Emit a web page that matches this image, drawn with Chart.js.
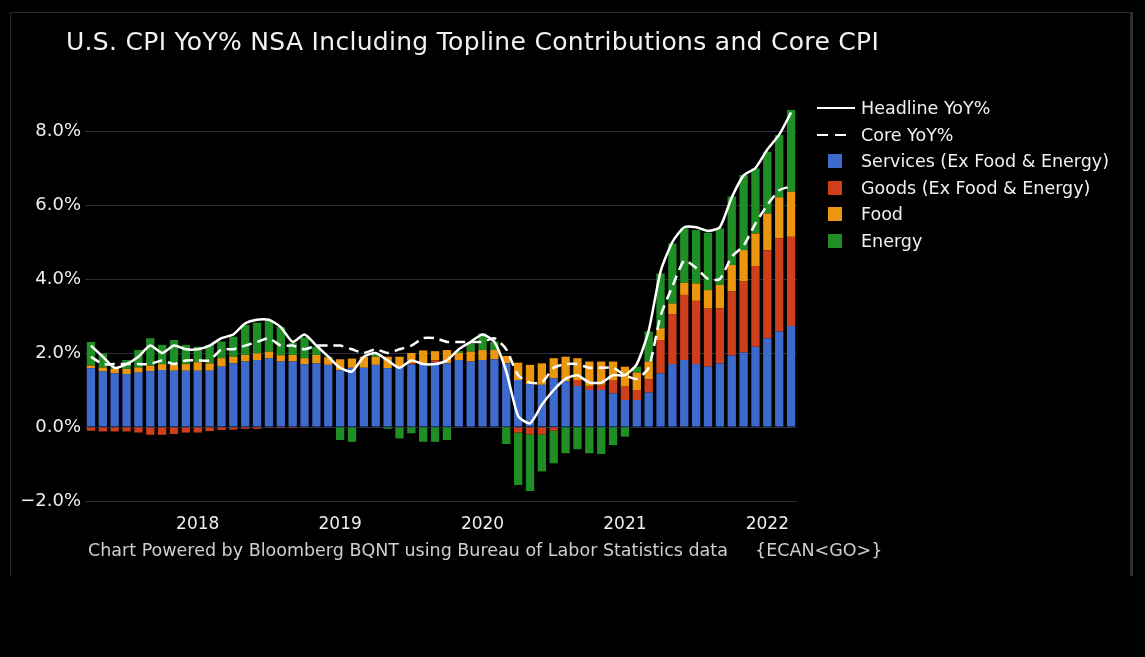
<!DOCTYPE html>
<html>
<head>
<meta charset="utf-8">
<script src="https://cdn.jsdelivr.net/npm/chart.js@4.4.1/dist/chart.umd.min.js"></script>
<style>
    html, body { margin: 0; padding: 0; background: #000; }
    body { width: 1145px; height: 657px; position: relative; overflow: hidden; font-family: "DejaVu Sans", Verdana, sans-serif; }
    #frame { position: absolute; left: 10px; top: 12px; width: 1119px; height: 563px; border-left: 1px solid #262626; border-top: 1px solid #2b2b2b; border-right: 3px solid #2e2e2e; }
    #chart { position: absolute; left: 0; top: 0; }
    #title { position: absolute; left: 66px; top: 27px; color: #f2f2f2; font-size: 25px; letter-spacing: 0.3px; white-space: nowrap; }
    #footer, #footer2 { position: absolute; top: 540px; color: #cfcfcf; font-size: 17.5px; white-space: nowrap; }
    #footer { left: 88px; }
    #footer2 { left: 755px; }
    #legend { position: absolute; left: 817px; top: 95px; }
    .row { height: 26.5px; display: flex; align-items: center; color: #f0f0f0; font-size: 17.5px; white-space: nowrap; }
    .mark { width: 44px; height: 14px; position: relative; }
    .mark span { position: absolute; }
</style>
</head>
<body>
<div id="frame"></div>
<canvas id="chart" width="1145" height="657"></canvas>
<div id="title">U.S. CPI YoY% NSA Including Topline Contributions and Core CPI</div>
<div id="legend"></div>
<div id="footer">Chart Powered by Bloomberg BQNT using Bureau of Labor Statistics data</div>
<div id="footer2">{ECAN&lt;GO&gt;}</div>
<script>
// ---- Data (monthly, Apr 2017 - Mar 2022) ----
const months = [
    '2017-04', '2017-05', '2017-06', '2017-07', '2017-08', '2017-09', '2017-10', '2017-11', '2017-12',
    '2018-01', '2018-02', '2018-03', '2018-04', '2018-05', '2018-06', '2018-07', '2018-08', '2018-09', '2018-10', '2018-11', '2018-12',
    '2019-01', '2019-02', '2019-03', '2019-04', '2019-05', '2019-06', '2019-07', '2019-08', '2019-09', '2019-10', '2019-11', '2019-12',
    '2020-01', '2020-02', '2020-03', '2020-04', '2020-05', '2020-06', '2020-07', '2020-08', '2020-09', '2020-10', '2020-11', '2020-12',
    '2021-01', '2021-02', '2021-03', '2021-04', '2021-05', '2021-06', '2021-07', '2021-08', '2021-09', '2021-10', '2021-11', '2021-12',
    '2022-01', '2022-02', '2022-03'
];

const headline = [
    2.2, 1.9, 1.6, 1.7, 1.9, 2.2, 2.0, 2.2, 2.1,
    2.1, 2.2, 2.4, 2.5, 2.8, 2.9, 2.9, 2.7, 2.3, 2.5, 2.2, 1.9,
    1.6, 1.5, 1.9, 2.0, 1.8, 1.6, 1.8, 1.7, 1.7, 1.8, 2.1, 2.3,
    2.5, 2.3, 1.5, 0.3, 0.1, 0.6, 1.0, 1.3, 1.4, 1.2, 1.2, 1.4,
    1.4, 1.7, 2.6, 4.2, 5.0, 5.4, 5.4, 5.3, 5.4, 6.2, 6.8, 7.0,
    7.5, 7.9, 8.5
];

const core = [
    1.9, 1.7, 1.7, 1.7, 1.7, 1.7, 1.8, 1.7, 1.8,
    1.8, 1.8, 2.1, 2.1, 2.2, 2.3, 2.4, 2.2, 2.2, 2.1, 2.2, 2.2,
    2.2, 2.1, 2.0, 2.1, 2.0, 2.1, 2.2, 2.4, 2.4, 2.3, 2.3, 2.3,
    2.3, 2.4, 2.1, 1.4, 1.2, 1.2, 1.6, 1.7, 1.7, 1.6, 1.6, 1.6,
    1.4, 1.3, 1.6, 3.0, 3.8, 4.5, 4.3, 4.0, 4.0, 4.6, 4.9, 5.5,
    6.0, 6.4, 6.5
];

const services = [
    1.59, 1.50, 1.45, 1.43, 1.47, 1.51, 1.54, 1.52, 1.52,
    1.52, 1.52, 1.63, 1.72, 1.77, 1.81, 1.86, 1.77, 1.77, 1.70, 1.72, 1.68,
    1.53, 1.60, 1.60, 1.68, 1.59, 1.63, 1.69, 1.71, 1.74, 1.72, 1.81, 1.77,
    1.81, 1.83, 1.72, 1.27, 1.16, 1.14, 1.32, 1.23, 1.11, 1.00, 1.00, 0.91,
    0.73, 0.73, 0.93, 1.45, 1.70, 1.81, 1.70, 1.63, 1.72, 1.93, 2.01, 2.17,
    2.40, 2.58, 2.73
];

const goods = [
    -0.10, -0.12, -0.12, -0.12, -0.15, -0.21, -0.21, -0.19, -0.15,
    -0.15, -0.11, -0.08, -0.07, -0.05, -0.05, -0.02, -0.03, -0.03, -0.02, 0.00, 0.00,
    0.00, 0.00, 0.00, 0.00, 0.00, 0.00, 0.03, 0.00, 0.06, 0.00, 0.00, 0.00,
    0.00, 0.00, -0.01, -0.15, -0.20, -0.20, -0.10, 0.00, 0.16, 0.11, 0.14, 0.36,
    0.36, 0.27, 0.36, 0.90, 1.35, 1.76, 1.71, 1.57, 1.49, 1.73, 1.92, 2.18,
    2.38, 2.52, 2.41
];

const food = [
    0.07, 0.11, 0.12, 0.14, 0.14, 0.15, 0.16, 0.16, 0.18,
    0.23, 0.20, 0.23, 0.18, 0.18, 0.18, 0.18, 0.17, 0.18, 0.16, 0.23, 0.20,
    0.30, 0.25, 0.30, 0.22, 0.31, 0.27, 0.28, 0.36, 0.25, 0.36, 0.19, 0.27,
    0.27, 0.25, 0.20, 0.47, 0.52, 0.58, 0.54, 0.67, 0.59, 0.66, 0.63, 0.50,
    0.54, 0.47, 0.48, 0.32, 0.29, 0.33, 0.47, 0.50, 0.63, 0.72, 0.85, 0.88,
    0.99, 1.11, 1.22
];

const energy = [
    0.64, 0.38, 0.05, 0.24, 0.47, 0.74, 0.52, 0.67, 0.52,
    0.42, 0.50, 0.45, 0.54, 0.81, 0.83, 0.85, 0.76, 0.32, 0.56, 0.22, 0.02,
    -0.35, -0.40, 0.00, 0.08, -0.05, -0.31, -0.17, -0.40, -0.40, -0.35, 0.05, 0.22,
    0.45, 0.23, -0.45, -1.42, -1.53, -1.00, -0.88, -0.71, -0.60, -0.71, -0.73, -0.49,
    -0.26, 0.16, 0.81, 1.48, 1.62, 1.47, 1.44, 1.55, 1.53, 1.85, 2.03, 1.76,
    1.67, 1.68, 2.21
];

const yTicks = [-2, 0, 2, 4, 6, 8];

// ---- Colours ----
const COLORS = {
    services: '#3d6acd',
    goods: '#cf3f1b',
    food: '#ec950f',
    energy: '#1f8f25',
    line: '#ffffff',
    grid: '#2c2e3d',
    text: '#eeeeee'
};

const FONT = '"DejaVu Sans", Verdana, sans-serif';

const barSet = (label, data, color) => ({
    type: 'bar',
    label: label,
    data: data,
    backgroundColor: color,
    stack: 'contrib',
    order: 2,
    barPercentage: 0.7,
    categoryPercentage: 1.0
});

const lineSet = (label, data, dash) => ({
    type: 'line',
    label: label,
    data: data,
    borderColor: COLORS.line,
    borderWidth: 2.5,
    borderDash: dash,
    pointRadius: 0,
    tension: 0.2,
    fill: false,
    stack: label,   // own stack, so lines are not added to the bars
    order: 0
});

const datasets = [
    lineSet('Headline YoY%', headline, []),
    lineSet('Core YoY%', core, [10, 6]),
    barSet('Services (Ex Food & Energy)', services, COLORS.services),
    barSet('Goods (Ex Food & Energy)', goods, COLORS.goods),
    barSet('Food', food, COLORS.food),
    barSet('Energy', energy, COLORS.energy)
];

// ---- Chart ----
const ctx = document.getElementById('chart').getContext('2d');
const chart = new Chart(ctx, {
    data: { labels: months, datasets: datasets },
    options: {
        responsive: false,
        animation: false,
        devicePixelRatio: 1,
        layout: { padding: { left: 0, right: 348, top: 94, bottom: 0 } },
        plugins: {
            legend: { display: false },
            title: { display: false },
            tooltip: { enabled: false }
        },
        scales: {
            x: {
                stacked: true,
                offset: true,
                grid: { display: false, drawTicks: false },
                border: { display: false },
                ticks: {
                    autoSkip: false,
                    maxRotation: 0,
                    padding: 13,
                    color: COLORS.text,
                    font: { family: FONT, size: 17 },
                    callback: (value, i) => months[i].endsWith('-01') ? months[i].slice(0, 4) : ''
                },
                afterFit: (scale) => { scale.height = 156; }
            },
            y: {
                stacked: true,
                min: -2,
                max: 9,
                afterBuildTicks: (scale) => { scale.ticks = yTicks.map(v => ({ value: v })); },
                grid: { color: COLORS.grid, lineWidth: 1, drawTicks: false },
                border: { display: false },
                ticks: {
                    padding: 4,
                    color: COLORS.text,
                    font: { family: FONT, size: 18 },
                    callback: (v) => v.toFixed(1).replace('-', '\u2212') + '%'
                },
                afterFit: (scale) => { scale.width = 85; }
            }
        }
    }
});

// ---- HTML legend built from the datasets ----
const legend = document.getElementById('legend');
datasets.forEach(ds => {
    const row = document.createElement('div');
    row.className = 'row';
    const mark = document.createElement('div');
    mark.className = 'mark';
    if (ds.type === 'line') {
        const pieces = ds.borderDash.length ? [[0, 11], [18, 11]] : [[0, 38]];
        pieces.forEach(([x, w]) => {
            const s = document.createElement('span');
            s.style.cssText = `left:${x}px;top:6px;width:${w}px;height:2px;background:${ds.borderColor}`;
            mark.appendChild(s);
        });
    } else {
        const s = document.createElement('span');
        s.style.cssText = `left:11px;top:0;width:14px;height:14px;background:${ds.backgroundColor}`;
        mark.appendChild(s);
    }
    const txt = document.createElement('span');
    txt.textContent = ds.label;
    row.appendChild(mark);
    row.appendChild(txt);
    legend.appendChild(row);
});
</script>
</body>
</html>
